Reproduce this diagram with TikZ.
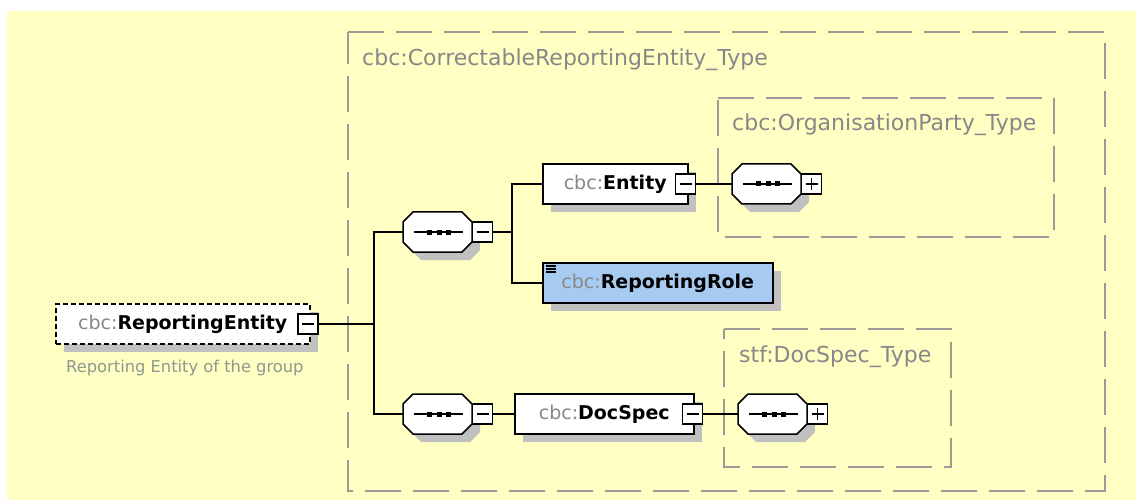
\documentclass[tikz,border=0pt]{standalone}
\usepackage{fontspec}
\setmainfont{DejaVu Sans}
\usetikzlibrary{calc,shadows}
\definecolor{bgyellow}{HTML}{FFFFC4}
\definecolor{boxgray}{HTML}{9A9A9A}
\definecolor{shadowgray}{HTML}{C0C0C0}
\definecolor{titlegray}{HTML}{878787}
\definecolor{rolefill}{HTML}{A6CAF0}
\definecolor{capgray}{HTML}{8E988E}
\tikzset{
  container/.style={draw=boxgray, line width=2pt, dash pattern=on 36pt off 12pt},
  ctitle/.style={anchor=west, inner sep=0pt, text=titlegray, font=\fontsize{22}{24}\selectfont},
  elem/.style={draw=black, line width=1.5pt, fill=white, minimum height=40pt, inner sep=0pt, anchor=west,
    font=\fontsize{19}{22}\selectfont,
    drop shadow={shadow xshift=8pt, shadow yshift=-8pt, fill=shadowgray, opacity=1}},
  optelem/.style={elem, dash pattern=on 5pt off 3pt},
  tog/.style={draw=black, line width=1.4pt, fill=white, minimum width=20pt, minimum height=20pt, inner sep=0pt},
  togminus/.style={tog, path picture={\draw[line width=1.3pt] ([xshift=4pt]path picture bounding box.west) -- ([xshift=-4pt]path picture bounding box.east);}},
  togplus/.style={tog, path picture={\draw[line width=1.3pt] ([xshift=4pt]path picture bounding box.west) -- ([xshift=-4pt]path picture bounding box.east);
      \draw[line width=1.3pt] ([yshift=-4pt]path picture bounding box.north) -- ([yshift=4pt]path picture bounding box.south);}},
  conn/.style={draw=black, line width=1.5pt},
  octbox/.style={inner sep=0pt, minimum width=69pt, minimum height=40pt}
}
\newcommand\octshape[3]{%
  \path[#1] ({#2+10},{#3-20}) -- ({#2+59},{#3-20}) -- ({#2+69},{#3-10}) -- ({#2+69},{#3+10})
    -- ({#2+59},{#3+20}) -- ({#2+10},{#3+20}) -- ({#2},{#3+10}) -- ({#2},{#3-10}) -- cycle;}
\newcommand\octa[4]{%
  \octshape{fill=shadowgray}{#2+8}{#3+8}%
  \octshape{draw=black, line width=1.5pt, fill=white}{#2}{#3}%
  \node[octbox] (#1) at ({#2+34.5},{#3}) {};
  \draw[line width=1.4pt] ({#2+11},{#3}) -- ({#2+60},{#3});
  \fill ({#2+24},{#3-2.5}) rectangle ++(5,5);
  \fill ({#2+33.5},{#3-2.5}) rectangle ++(5,5);
  \fill ({#2+43},{#3-2.5}) rectangle ++(5,5);
  \node[#4] (#1-t) at ({#2+79.5},{#3}) {};}
\begin{document}
\begin{tikzpicture}[x=1pt,y=-1pt]
\useasboundingbox (0,0) rectangle (1136,500);
\fill[bgyellow] (7,11) rectangle (1136,500);

% containers
\coordinate (c0a) at (348,32); \coordinate (c0b) at (1105,32);
\coordinate (c0c) at (1105,491); \coordinate (c0d) at (348,491);
\draw[container] (c0a) -- (c0b) -- (c0c) -- (c0d) -- cycle;
\node[ctitle] (t0) at (362,60) {cbc:CorrectableReportingEntity\_Type};

\coordinate (c1a) at (718,98); \coordinate (c1b) at (1054,98);
\coordinate (c1c) at (1054,237); \coordinate (c1d) at (718,237);
\draw[container] (c1a) -- (c1b) -- (c1c) -- (c1d) -- cycle;
\node[ctitle] (t1) at (732,125) {cbc:OrganisationParty\_Type};

\coordinate (c2a) at (724,329); \coordinate (c2b) at (951,329);
\coordinate (c2c) at (951,467); \coordinate (c2d) at (724,467);
\draw[container] (c2a) -- (c2b) -- (c2c) -- (c2d) -- cycle;
\node[ctitle] (t2) at (739,357) {stf:DocSpec\_Type};

% root element
\node[optelem, minimum width=254pt] (re) at (55,324)
  {\textcolor{titlegray}{cbc:}\textbf{ReportingEntity}};
\node[togminus] (re-t) at (308,324) {};
\node[anchor=west, inner sep=0pt, text=capgray, font=\fontsize{16.3}{18}\selectfont] (cap) at (66,368)
  {Reporting Entity of the group};

% sequences
\octa{s1}{403}{232}{togminus}
\octa{s2}{403}{414}{togminus}

% child elements
\node[elem, minimum width=145pt] (entity) at (542,184) {\textcolor{titlegray}{cbc:}\textbf{Entity}\hspace{10pt}};
\node[togminus] (entity-t) at (685.5,184) {};
\node[elem, minimum width=230pt, fill=rolefill] (role) at (542,283) {\textcolor{titlegray}{cbc:}\textbf{ReportingRole}};
\draw[line width=1.3pt] (546,266) -- (556,266) (546,269) -- (556,269) (546,272) -- (556,272);
\node[elem, minimum width=179pt] (docspec) at (514,414) {\textcolor{titlegray}{cbc:}\textbf{DocSpec}\hspace{8pt}};
\node[togminus] (docspec-t) at (692.5,414) {};

% type sequences
\octa{o1}{732}{184}{togplus}
\octa{o2}{738}{414}{togplus}

% connectors
\coordinate (j1) at (374,324);
\coordinate (j2) at (512,232);
\draw[conn] (re-t.east) -- (j1);
\draw[conn] (s1.west) -| (j1) |- (s2.west);
\draw[conn] (s1-t.east) -- (j2);
\draw[conn] (entity.west) -| (j2) |- (role.west);
\draw[conn] (entity-t.east) -- (o1.west);
\draw[conn] (s2-t.east) -- (docspec.west);
\draw[conn] (docspec-t.east) -- (o2.west);
\end{tikzpicture}
\end{document}
